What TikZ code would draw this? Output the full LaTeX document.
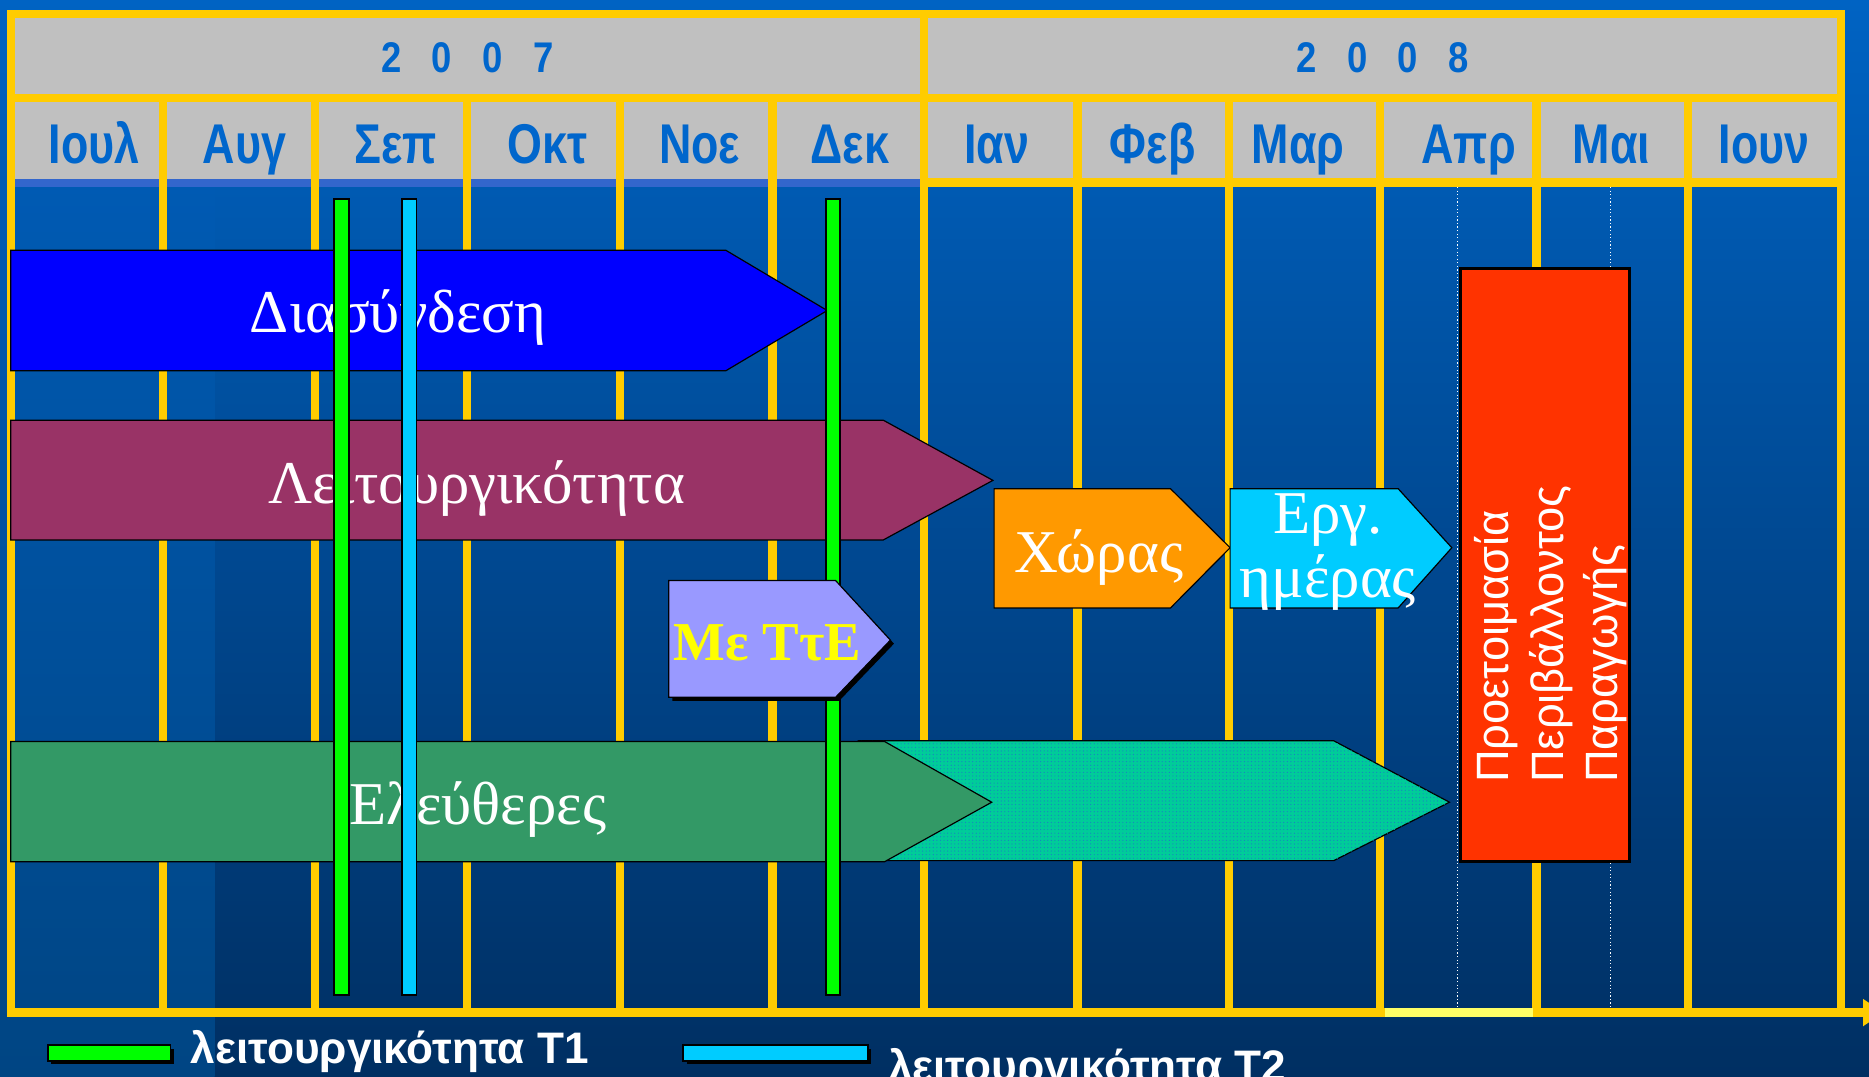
\documentclass[tikz,border=0pt]{standalone}
\usepackage{fontspec}
\setmainfont{Liberation Serif}
\newfontfamily\monthfont[FakeStretch=0.8]{Liberation Sans}
\newfontfamily\yearfont[FakeStretch=0.85,WordSpace=3]{Liberation Sans}
\newfontfamily\legendfont{Liberation Sans}
\newfontfamily\boxfont{Liberation Sans}
\usepackage{tikz}
\usetikzlibrary{positioning,patterns,calc}

\definecolor{bgtop}{HTML}{0063C3}
\definecolor{bgbottom}{HTML}{002F62}
\definecolor{bgstrip}{HTML}{004583}
\definecolor{bgmid}{HTML}{005AB3}
\definecolor{gridyellow}{HTML}{FFCC00}
\definecolor{paleyellow}{HTML}{FFFF66}
\definecolor{cellgrey}{HTML}{C0C0C0}
\definecolor{textblue}{HTML}{0066CC}
\definecolor{stripblue}{HTML}{3366CC}
\definecolor{diablue}{HTML}{0000FF}
\definecolor{leitpurple}{HTML}{993366}
\definecolor{eleftgreen}{HTML}{339966}
\definecolor{tealfill}{HTML}{00CC99}
\definecolor{dotblue}{HTML}{1A7FC4}
\definecolor{choraorange}{HTML}{FF9900}
\definecolor{ergcyan}{HTML}{00CCFF}
\definecolor{ttelilac}{HTML}{9999FF}
\definecolor{tteyellow}{HTML}{FFFF00}
\definecolor{prodred}{HTML}{FF3300}
\definecolor{tone}{HTML}{00FF00}
\definecolor{ttwo}{HTML}{00CCFF}

\tikzstyle{grid} = [draw=gridyellow, line width=7pt]
\tikzstyle{bar} = [draw=black, line width=1pt]
\tikzstyle{bartext} = [text=white, font=\fontsize{51}{60}\selectfont, inner sep=0pt, anchor=base]
\tikzstyle{month} = [text=textblue, font=\monthfont\bfseries\fontsize{47}{50}\selectfont, inner sep=0pt, anchor=base]
\tikzstyle{year} = [text=textblue, font=\yearfont\bfseries\fontsize{36}{40}\selectfont, inner sep=0pt, anchor=base]
\tikzstyle{marker} = [draw=black, line width=1.5pt]
\tikzstyle{legend} = [text=white, font=\legendfont\bfseries\fontsize{37}{40}\selectfont, inner sep=0pt, anchor=base west]

\begin{document}
\begin{tikzpicture}[x=1pt, y=-1pt]
    \useasboundingbox (0,0) rectangle (1568,903);
    \clip (0,0) rectangle (1568,903);
    % background
    \shade[top color=bgtop, bottom color=bgbottom] (0,0) rectangle (1568,903);
    \shade[top color=bgmid, bottom color=bgstrip] (0,155) rectangle (180,903);
    \fill[cellgrey] (9.5,12) rectangle (1544.5,150);
    \fill[stripblue] (9.5,150) rectangle (775,157);
    % grid
    \draw[grid] (9.5,12) rectangle (1544.5,849.5);
    \draw[grid] (9.5,82) -- (1544.5,82);
    \draw[grid] (775,12) -- (775,849.5);
    \draw[grid] (775,153) -- (1544.5,153);
    \foreach \x in {137,264,392,520,648,904,1031,1158,1289,1416}
        \draw[grid] (\x,82) -- (\x,849.5);
    \draw[grid, draw=paleyellow] (1162,849.5) -- (1286,849.5);
    \draw[grid] (1544.5,849.5) -- (1568,849.5);
    \fill[gridyellow] (1563,838) -- (1563,861) -- (1580,849.5) -- cycle;
    \draw[white, dotted, line width=1pt] (1223,157) -- (1223,846);
    \draw[white, dotted, line width=1pt] (1351,157) -- (1351,846);
    % years and months
    \node[year] (y2007) at (392,61) {2 0 0 7};
    \node[year] (y2008) at (1160,61) {2 0 0 8};
    \foreach \x/\m [count=\i] in {79/Ιουλ, 205/Αυγ, 332/Σεπ, 459/Οκτ, 587/Νοε, 713/Δεκ, 836/Ιαν, 967/Φεβ, 1089/Μαρ, 1232/Απρ, 1352/Μαι, 1480/Ιουν}
        \node[month] (m\i) at (\x,137) {\m};
    % tasks
    \draw[bar, fill=tealfill, postaction={pattern=dots, pattern color=dotblue}]
        (720,621.5) -- (1119,621.5) -- (1216,673) -- (1119,722) -- (720,722) -- cycle;
    \draw[bar, fill=diablue] (9,210) -- (609,210) -- (694,260.5) -- (609,311) -- (9,311) -- cycle;
    \draw[bar, fill=leitpurple] (9,352.5) -- (741,352.5) -- (833,403) -- (741,453) -- (9,453) -- cycle;
    \draw[bar, fill=eleftgreen] (9,622) -- (742,622) -- (832,673) -- (742,723) -- (9,723) -- cycle;
    \draw[bar, fill=choraorange] (834,410) -- (982,410) -- (1032,459.5) -- (982,510) -- (834,510) -- cycle;
    \draw[bar, fill=ergcyan] (1032,410) -- (1173,410) -- (1218,459.5) -- (1173,510) -- (1032,510) -- cycle;
    \draw[bar, line width=2.5pt, fill=prodred] (1225,225) rectangle (1367,723);
    \node[bartext] (diasyndesi) at (334,279) {Διασύνδεση};
    \node[bartext] (leitourgikotita) at (400,422) {Λειτουργικότητα};
    \node[bartext] (eleftheres) at (401,692) {Ελεύθερες};
    \node[bartext] (choras) at (922,480) {Χώρας};
    \node[text=white, font=\boxfont\fontsize{38}{45.5}\selectfont, align=left, rotate=90,
        anchor=north west, inner sep=0pt] (proetoimasia) at (1237,657)
        {Προετοιμασία\\Περιβάλλοντος\\Παραγωγής};
    % T1 / T2 markers
    \draw[marker, fill=tone] (280.5,167) rectangle (292.5,835);
    \draw[marker, fill=ttwo] (337.5,167) rectangle (349.5,835);
    \draw[marker, fill=tone] (693,167) rectangle (705,835);
    \fill[black] (564,490) -- (704,490) -- (750,540) -- (704,588) -- (564,588) -- cycle;
    \draw[bar, fill=ttelilac] (561,487) -- (701,487) -- (747,537) -- (701,585) -- (561,585) -- cycle;
    \node[bartext, text=tteyellow, font=\bfseries\fontsize{46}{50}\selectfont] (tte) at (644,554) {Με ΤτΕ};
    \node[text=white, font=\fontsize{51}{54}\selectfont, align=center, anchor=north, inner sep=0pt]
        (ergimeras) at (1114,414) {Εργ.\\ημέρας};
    % legend
    \fill[black] (43,880) rectangle (146,893);
    \draw[marker, fill=tone] (40,877) rectangle (143,890);
    \node[legend] (legone) at (160,892) {λειτουργικότητα Τ1};
    \fill[black] (576,880) rectangle (731,893);
    \draw[marker, fill=ttwo] (573,877) rectangle (728,890);
    \node[legend] (legtwo) at (745,907) {λειτουργικότητα Τ2};
\end{tikzpicture}
\end{document}
